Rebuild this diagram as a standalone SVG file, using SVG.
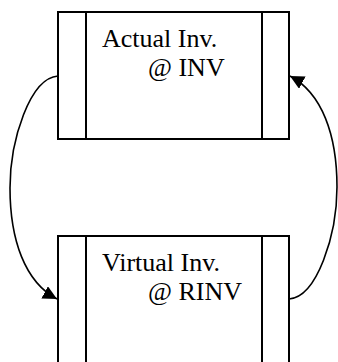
<svg xmlns="http://www.w3.org/2000/svg" width="338" height="362" viewBox="0 0 338 362">
<style>
.box{fill:#fff;stroke:#000;stroke-width:2}
.div{stroke:#000;stroke-width:2}
.lbl{font-family:"Liberation Serif","Times New Roman",serif;font-size:26px;fill:#000}
.conn{fill:none;stroke:#000;stroke-width:1.6}
</style>
<defs>
<marker id="arr" markerUnits="userSpaceOnUse" markerWidth="14" markerHeight="14" viewBox="0 0 14 14" refX="14" refY="7" orient="auto">
<path d="M0,0 L14,7 L0,14 z" fill="#000"/>
</marker>
</defs>
<rect width="338" height="362" fill="#fff"/>
<g id="actual">
<rect class="box" x="58" y="12" width="231" height="127"/>
<line class="div" x1="86" y1="12" x2="86" y2="139"/>
<line class="div" x1="262" y1="12" x2="262" y2="139"/>
<text class="lbl" x="102" y="47">Actual Inv.</text>
<text class="lbl" x="148" y="76">@ INV</text>
</g>
<g id="virtual">
<rect class="box" x="58" y="236" width="231" height="140"/>
<line class="div" x1="86" y1="236" x2="86" y2="376"/>
<line class="div" x1="262" y1="236" x2="262" y2="376"/>
<text class="lbl" x="102" y="271">Virtual Inv.</text>
<text class="lbl" x="148" y="300">@ RINV</text>
</g>
<g id="connectors">
<path class="conn" d="M58,76 C30,78 10,140 10,188 C10,240 25,282 57,299" marker-end="url(#arr)"/>
<path class="conn" d="M289,299 C317,297 337,235 337,187 C337,135 322,93 290,76" marker-end="url(#arr)"/>
</g>
</svg>
